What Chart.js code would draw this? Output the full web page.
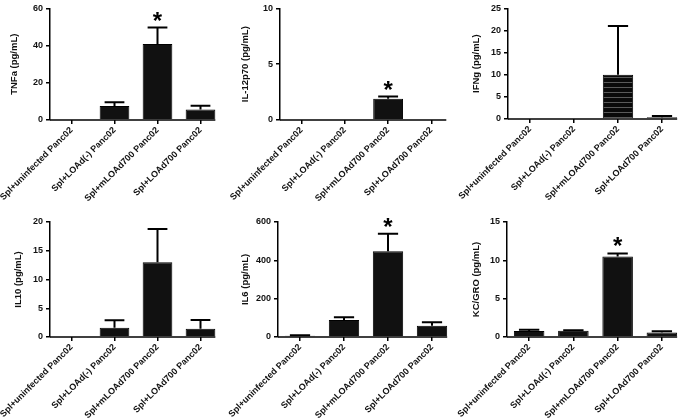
<!DOCTYPE html>
<html>
<head>
<meta charset="utf-8">
<script src="https://cdn.jsdelivr.net/npm/chart.js@4.4.1/dist/chart.umd.min.js"></script>
<style>
    html, body { margin: 0; padding: 0; background: #fff; overflow: hidden; }
    #wrap { position: relative; width: 685px; height: 419px; }
    canvas { position: absolute; }
</style>
</head>
<body>
<div id="wrap"></div>
<script>
// Groups on the x axis (same for every panel)
const categories = ['Spl+uninfected Panc02', 'Spl+LOAd(-) Panc02', 'Spl+mLOAd700 Panc02', 'Spl+LOAd700 Panc02'];

// Means and SEM
const tnfaMean = [0, 7.5, 40.8, 5.7];
const tnfaErr = [0, 2.0, 8.9, 2.0];
const il12Mean = [0, 0, 1.9, 0];
const il12Err = [0, 0, 0.2, 0];
const ifngMean = [0, 0, 10.0, 0.4];
const ifngErr = [0, 0, 11.0, 0.3];
const il10Mean = [0, 1.6, 13.0, 1.45];
const il10Err = [0, 1.3, 5.8, 1.5];
const il6Mean = [7, 89, 447, 59];
const il6Err = [2, 14, 92, 18];
const kcMean = [0.78, 0.8, 10.5, 0.6];
const kcErr = [0.17, 0.07, 0.4, 0.15];

// Y axis titles, ranges and the significance marks
const yTitles = ['TNFa (pg/mL)', 'IL-12p70 (pg/mL)', 'IFNg (pg/mL)', 'IL10 (pg/mL)', 'IL6 (pg/mL)', 'KC/GRO (pg/mL)'];
const yMax = [60, 10, 25, 20, 600, 15];
const yStep = [20, 5, 5, 5, 200, 5];
const starred = [[2], [2], [], [], [2], [2]];

const means = [tnfaMean, il12Mean, ifngMean, il10Mean, il6Mean, kcMean];
const errs = [tnfaErr, il12Err, ifngErr, il10Err, il6Err, kcErr];

// Panel boxes on the page and plot area inside each canvas
const panels = [
    { left: 0, top: 0, w: 228, h: 210, axisX: 50, plotTop: 5, plotBottom: 120, plotRight: 222, titleX: 9 },
    { left: 228, top: 0, w: 228, h: 210, axisX: 52, plotTop: 5, plotBottom: 120, plotRight: 225, titleX: 12 },
    { left: 456, top: 0, w: 229, h: 210, axisX: 52, plotTop: 5, plotBottom: 119, plotRight: 228, titleX: 15 },
    { left: 0, top: 210, w: 228, h: 209, axisX: 50, plotTop: 12, plotBottom: 127, plotRight: 222, titleX: 13 },
    { left: 228, top: 210, w: 228, h: 209, axisX: 50, plotTop: 12, plotBottom: 127, plotRight: 226, titleX: 12 },
    { left: 456, top: 210, w: 229, h: 209, axisX: 51, plotTop: 12, plotBottom: 127, plotRight: 228, titleX: 15 }
];

// Horizontal stripes used by the IFNg bar
function stripePattern() {
    const c = document.createElement('canvas');
    c.width = 8;
    c.height = 5;
    const g = c.getContext('2d');
    g.fillStyle = '#0a0a0a';
    g.fillRect(0, 0, 8, 5);
    g.fillStyle = '#5a5a5a';
    g.fillRect(0, 2, 8, 1);
    return g.createPattern(c, 'repeat');
}

// Error bars, asterisks and the short x axis line
const errorBarPlugin = {
    id: 'errorBars',
    afterDatasetsDraw(chart, args, opts) {
        const ctx = chart.ctx;
        const meta = chart.getDatasetMeta(0);
        const yScale = chart.scales.y;
        const data = chart.data.datasets[0].data;
        ctx.save();
        ctx.strokeStyle = '#000';
        ctx.lineWidth = 2;
        meta.data.forEach((bar, i) => {
            const err = opts.err[i];
            const topY = yScale.getPixelForValue(data[i] + err);
            if (err > 0) {
                const baseY = yScale.getPixelForValue(data[i]);
                const capHalf = bar.width / 3;
                ctx.beginPath();
                ctx.moveTo(bar.x, baseY);
                ctx.lineTo(bar.x, topY);
                ctx.moveTo(bar.x - capHalf, topY);
                ctx.lineTo(bar.x + capHalf, topY);
                ctx.stroke();
            }
            if (opts.stars.includes(i)) {
                ctx.fillStyle = '#000';
                ctx.font = 'bold 24px "Liberation Sans", Arial, sans-serif';
                ctx.textAlign = 'center';
                ctx.textBaseline = 'alphabetic';
                ctx.fillText('*', bar.x, topY + 1);
            }
        });
        // x axis runs from the y axis to the right edge of the last bar
        const last = meta.data[meta.data.length - 1];
        const axisY = yScale.getPixelForValue(0);
        ctx.lineWidth = 1.5;
        ctx.beginPath();
        ctx.moveTo(chart.chartArea.left, axisY);
        ctx.lineTo(last.x + last.width / 2, axisY);
        ctx.stroke();
        ctx.restore();
    }
};

function makePanel(k) {
    const p = panels[k];
    const canvas = document.createElement('canvas');
    canvas.width = p.w;
    canvas.height = p.h;
    canvas.style.left = p.left + 'px';
    canvas.style.top = p.top + 'px';
    canvas.style.width = p.w + 'px';
    canvas.style.height = p.h + 'px';
    document.getElementById('wrap').appendChild(canvas);

    const fill = categories.map((c, i) => (k === 2 && i === 2) ? stripePattern() : '#111');

    new Chart(canvas.getContext('2d'), {
        type: 'bar',
        data: {
            labels: categories,
            datasets: [{
                data: means[k],
                backgroundColor: fill,
                borderColor: '#000',
                borderWidth: 1,
                barPercentage: 0.69,
                categoryPercentage: 1.0
            }]
        },
        options: {
            responsive: false,
            animation: false,
            devicePixelRatio: 1,
            layout: {
                padding: { left: 0, top: p.plotTop, right: p.w - p.plotRight, bottom: 0 }
            },
            plugins: {
                legend: { display: false },
                tooltip: { enabled: false },
                errorBars: { err: errs[k], stars: starred[k] }
            },
            scales: {
                x: {
                    grid: { display: true, drawOnChartArea: false, offset: false, tickLength: 4, color: '#000', lineWidth: 1.5 },
                    border: { display: false },
                    ticks: {
                        color: '#111',
                        autoSkip: false,
                        minRotation: 45,
                        maxRotation: 45,
                        padding: 1,
                        font: { family: '"Liberation Sans", Arial, sans-serif', size: 9, weight: 'bold' }
                    },
                    afterFit(scale) {
                        scale.height = p.h - p.plotBottom;
                        scale.paddingLeft = 0;
                        scale.paddingRight = 0;
                    }
                },
                y: {
                    min: 0,
                    max: yMax[k],
                    grid: { display: true, drawOnChartArea: false, tickLength: 4, color: '#000', lineWidth: 1.5 },
                    border: { display: true, color: '#000', width: 1.5 },
                    ticks: {
                        stepSize: yStep[k],
                        color: '#111',
                        padding: 3,
                        font: { family: '"Liberation Sans", Arial, sans-serif', size: 9, weight: 'bold' }
                    },
                    title: {
                        display: true,
                        text: yTitles[k],
                        color: '#111',
                        padding: { top: p.titleX, bottom: 0 },
                        font: { family: '"Liberation Sans", Arial, sans-serif', size: 9.5, weight: 'bold' }
                    },
                    afterFit(scale) {
                        scale.width = p.axisX;
                    }
                }
            }
        },
        plugins: [errorBarPlugin]
    });
}

for (let k = 0; k < panels.length; k++) {
    makePanel(k);
}
</script>
</body>
</html>
